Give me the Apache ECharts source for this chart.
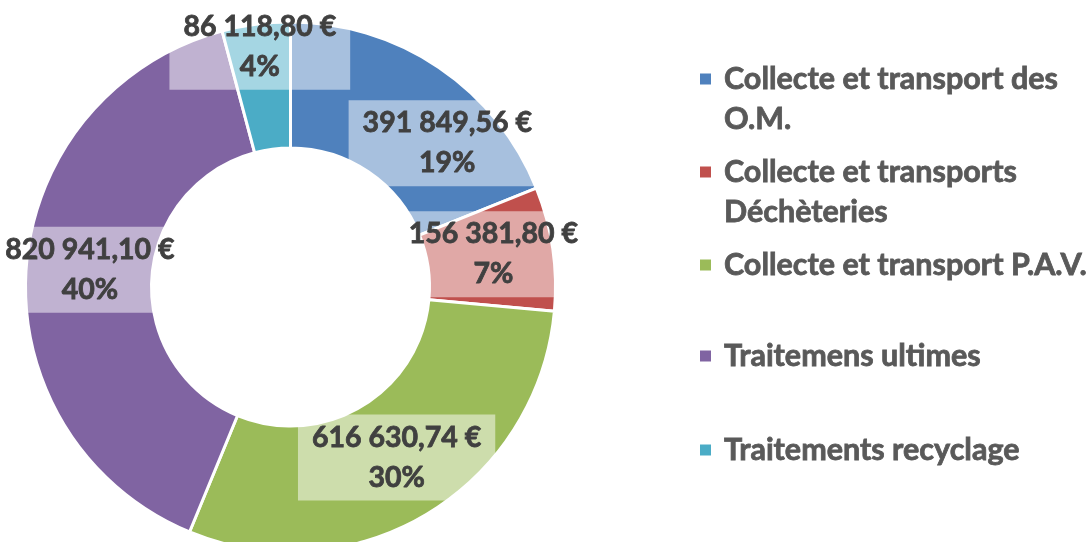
<!DOCTYPE html>
<html>
<head>
  <meta charset="utf-8">
  <title>Répartition des coûts</title>
  <script src="https://cdn.jsdelivr.net/npm/echarts@6/dist/echarts.min.js"></script>
  <style>
    html, body { margin: 0; padding: 0; background: #fff; }
    #chart { width: 1086px; height: 542px; }
  </style>
</head>
<body>
  <div id="chart"></div>
  <script>
    // postes de dépenses (ordre du graphique, sens horaire depuis midi)
    var categories = [
      'Collecte et transport des O.M.',
      'Collecte et transports Déchèteries',
      'Collecte et transport P.A.V.',
      'Traitemens ultimes',
      'Traitements recyclage'
    ];
    // texte de la légende, retours à la ligne comme sur l'original
    var legendLabels = [
      'Collecte et transport des\nO.M.',
      'Collecte et transports\nDéchèteries',
      'Collecte et transport P.A.V.',
      'Traitemens ultimes',
      'Traitements recyclage'
    ];
    var amounts = [391849.56, 156381.80, 616630.74, 820941.10, 86118.80];
    var colors = ['#4F81BD', '#C0504D', '#9BBB59', '#8064A2', '#4BACC6'];

    // décalage des étiquettes (comme le "best fit" d'Excel)
    var labelShift = [[42, 26], [0, -3], [0, -5], [4, -4], [-4, -37]];
    // position verticale des pastilles de légende
    var legendY = [79, 172, 265, 356, 450];

    function euro(v) {
      var parts = v.toFixed(2).split('.');
      var ent = parts[0].replace(/\B(?=(\d{3})+(?!\d))/g, ' ');
      return ent + ',' + parts[1] + ' €';
    }

    var FONT = 'Lato';
    var chart = echarts.init(document.getElementById('chart'), null, { renderer: 'canvas' });

    var legends = categories.map(function (name, i) {
      var twoLines = legendLabels[i].indexOf('\n') >= 0;
      return {
        orient: 'vertical',
        left: 698,
        top: legendY[i] - (twoLines ? 60 : 20),
        padding: 0,
        itemWidth: 13,
        itemHeight: 13,
        icon: 'rect',
        selectedMode: false,
        data: [name],
        // ligne vide en tête : la pastille reste alignée sur la 1re ligne
        formatter: function () { return twoLines ? ' \n' + legendLabels[i] : legendLabels[i]; },
        textStyle: {
          fontFamily: FONT,
          fontWeight: 'bold',
          fontSize: 30.5,
          color: '#595959',
          textBorderColor: '#595959',
          textBorderWidth: 0.8,
          lineHeight: 40,
          padding: [0, 0, 0, 7]
        }
      };
    });

    chart.setOption({
      animation: false,
      color: colors,
      legend: legends,
      series: [{
        type: 'pie',
        center: [290.5, 287],
        radius: [139, 265],
        startAngle: 90,
        clockwise: true,
        percentPrecision: 0,
        avoidLabelOverlap: false,
        itemStyle: { borderColor: '#fff', borderWidth: 3 },
        label: {
          show: true,
          position: 'inside',
          formatter: function (p) { return euro(p.value) + '\n' + p.percent + '%'; },
          fontFamily: FONT,
          fontWeight: 'bold',
          fontSize: 28.5,
          lineHeight: 40,
          color: '#404040',
          textBorderColor: '#404040',
          textBorderWidth: 0.8,
          backgroundColor: 'rgba(255,255,255,0.5)',
          padding: [3, 14]
        },
        labelLine: { show: false },
        labelLayout: function (params) {
          var s = labelShift[params.dataIndex];
          return { dx: s[0], dy: s[1] };
        },
        emphasis: { disabled: true },
        data: categories.map(function (name, i) {
          return { name: name, value: amounts[i] };
        })
      }]
    });
  </script>
</body>
</html>
